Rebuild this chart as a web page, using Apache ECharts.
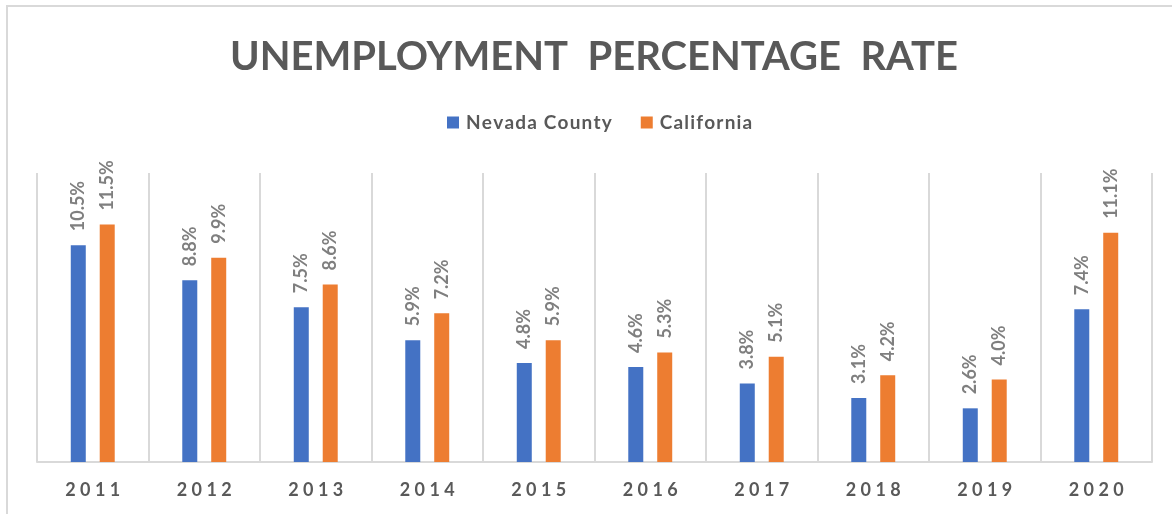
<!DOCTYPE html>
<html>
<head>
<meta charset="utf-8">
<script src="https://cdn.jsdelivr.net/npm/echarts@6/dist/echarts.min.js"></script>
<style>
html,body{margin:0;padding:0;background:#fff;}
#chart{width:1172px;height:514px;}
</style>
</head>
<body>
<div id="chart"></div>
<script>
const categories = ['2011','2012','2013','2014','2015','2016','2017','2018','2019','2020'];
const nevadaCounty = [10.5, 8.8, 7.5, 5.9, 4.8, 4.6, 3.8, 3.1, 2.6, 7.4];
const california = [11.5, 9.9, 8.6, 7.2, 5.9, 5.3, 5.1, 4.2, 4.0, 11.1];
const seriesNames = ['Nevada County', 'California'];
const titleText = 'UNEMPLOYMENT PERCENTAGE RATE';

const FONT = 'Lato';
const HAIR = '\u200A';
const chart = echarts.init(document.getElementById('chart'), null, {renderer: 'canvas'});
const labelOpt = {
  show: true,
  position: 'top',
  rotate: 90,
  align: 'left',
  verticalAlign: 'middle',
  distance: 14,
  color: '#7f7f7f',
  fontFamily: FONT,
  fontWeight: 'bold',
  fontSize: 18,
  formatter: p => p.value.toFixed(1) + '%'
};
chart.setOption({
  animation: false,
  backgroundColor: '#ffffff',
  title: {
    text: titleText.split(' ').join('  '),
    left: 225,
    top: 32,
    textStyle: {color: '#595959', fontFamily: FONT, fontWeight: 'bold', fontSize: 40}
  },
  legend: {
    data: seriesNames,
    top: 108,
    left: 442,
    itemWidth: 12,
    itemHeight: 12,
    itemGap: 29,
    icon: 'rect',
    formatter: n => n.split('').join(HAIR),
    textStyle: {color: '#595959', fontFamily: FONT, fontWeight: 'bold', fontSize: 19, padding: [0, 0, 0, 2]}
  },
  grid: {left: 37, right: 20, top: 173, bottom: 52, containLabel: false},
  xAxis: {
    type: 'category',
    data: categories,
    axisLine: {lineStyle: {color: '#d9d9d9', width: 2}},
    axisTick: {show: false},
    splitLine: {show: true, lineStyle: {color: '#d9d9d9', width: 2}},
    axisLabel: {
      color: '#595959', fontFamily: FONT, fontWeight: 'bold', fontSize: 18, margin: 19,
      formatter: v => v.split('').join(' ')
    }
  },
  yAxis: {
    type: 'value', min: 0, max: 14, show: false,
    splitLine: {show: false}
  },
  series: [
    {name: seriesNames[0], type: 'bar', data: nevadaCounty, barWidth: 15, barGap: '93%',
     itemStyle: {color: '#4472C4'}, label: labelOpt},
    {name: seriesNames[1], type: 'bar', data: california, barWidth: 15, barGap: '93%',
     itemStyle: {color: '#ED7D31'}, label: labelOpt}
  ],
  graphic: [{
    type: 'rect', shape: {x: 7, y: 6, width: 1200, height: 600},
    style: {fill: 'none', stroke: '#d9d9d9', lineWidth: 2}, silent: true, z: -1
  }]
});
</script>
</body>
</html>
